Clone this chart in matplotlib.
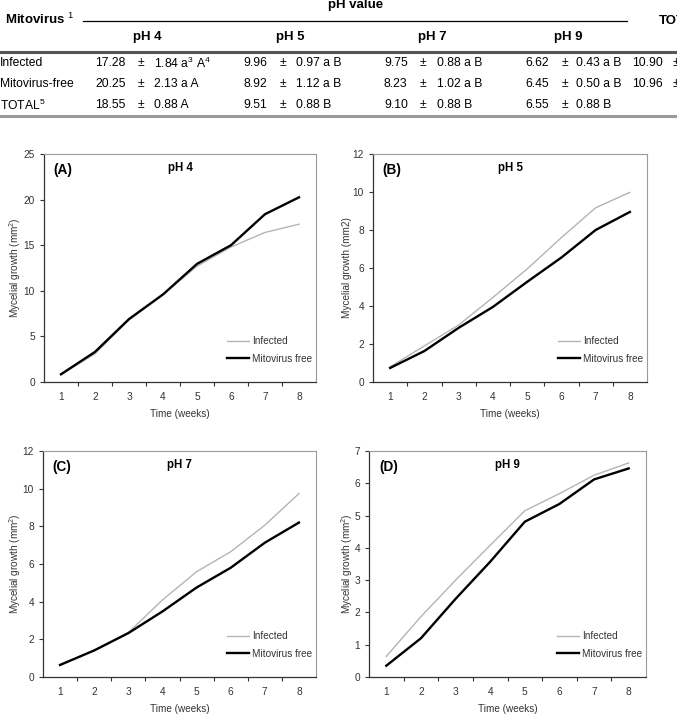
"""
Mycelial growth of infected vs mitovirus-free isolates at four pH values,
with the summary table above the four panels.
"""
import matplotlib
matplotlib.use("Agg")
import matplotlib.pyplot as plt
from matplotlib.lines import Line2D

plt.rcParams["font.family"] = ["Liberation Sans", "DejaVu Sans"]
plt.rcParams["mathtext.fontset"] = "custom"
plt.rcParams["mathtext.rm"] = "Liberation Sans"
plt.rcParams["mathtext.it"] = "Liberation Sans:italic"
plt.rcParams["mathtext.bf"] = "Liberation Sans:bold"

W, H = 677, 725

# ---- table data ----
ph_headers = ["pH 4", "pH 5", "pH 7", "pH 9"]
row_names = ["Infected", "Mitovirus-free", "TOTAL$^{5}$"]
means = [["17.28", "9.96", "9.75", "6.62"],
         ["20.25", "8.92", "8.23", "6.45"],
         ["18.55", "9.51", "9.10", "6.55"]]
errors = [["1.84 a$^{3}$ A$^{4}$", "0.97 a B", "0.88 a B", "0.43 a B"],
          ["2.13 a A", "1.12 a B", "1.02 a B", "0.50 a B"],
          ["0.88 A", "0.88 B", "0.88 B", "0.88 B"]]
row_totals = ["10.90", "10.96", ""]

# ---- growth curves ----
weeks = [1, 2, 3, 4, 5, 6, 7, 8]
ph4_infected = [0.8, 3.1, 6.8, 9.6, 12.7, 14.8, 16.4, 17.3]
ph4_free = [0.85, 3.3, 6.9, 9.6, 12.95, 15.0, 18.4, 20.25]
ph5_infected = [0.8, 1.9, 3.0, 4.45, 5.95, 7.6, 9.17, 9.98]
ph5_free = [0.74, 1.63, 2.85, 3.95, 5.27, 6.55, 8.0, 8.95]
ph7_infected = [0.64, 1.41, 2.36, 4.09, 5.59, 6.65, 8.06, 9.74]
ph7_free = [0.64, 1.41, 2.33, 3.48, 4.75, 5.8, 7.13, 8.2]
ph9_infected = [0.64, 1.87, 3.0, 4.08, 5.15, 5.68, 6.25, 6.63]
ph9_free = [0.35, 1.2, 2.42, 3.57, 4.81, 5.36, 6.12, 6.46]

fig = plt.figure(figsize=(W / 100, H / 100), dpi=100)


def ftext(x, y, s, **kw):
    # place text by pixel position (from top-left)
    kw.setdefault("fontsize", 8.7)
    kw.setdefault("va", "center")
    fig.text(x / W, 1 - y / H, s, **kw)


def fline(x0, x1, y, **kw):
    fig.add_artist(Line2D([x0 / W, x1 / W], [1 - y / H, 1 - y / H],
                          transform=fig.transFigure, **kw))


# table header (the TOTAL column runs off the right edge, as in the source)
ftext(356, 5, "pH value", ha="center", weight="bold", fontsize=9.5)
ftext(5, 19, "Mitovirus $^{1}$", weight="bold", fontsize=9.5)
ftext(659, 21, "TOTAL", weight="bold", fontsize=9.5)
fline(83, 627, 20.5, color="black", lw=0.9)
for x, h in zip([147, 290, 432, 568], ph_headers):
    ftext(x, 37, h, ha="center", weight="bold", fontsize=9.5)
fline(0, W, 52, color="#555555", lw=2.2)
fline(0, W, 115.5, color="#999999", lw=2.2)

mean_x = [95, 243, 384, 525]
pm_x = [138, 280, 420, 562]
err_x = [154, 296, 437, 576]
for r, y in enumerate([63, 84, 105]):
    ftext(0, y, row_names[r])
    for c in range(4):
        ftext(mean_x[c], y, means[r][c])
        ftext(pm_x[c], y, "±")
        ftext(err_x[c], y, errors[r][c])
    if row_totals[r]:
        ftext(632, y, row_totals[r])
        ftext(673, y, "±")

# ---- panels ----
panels = [
    ("(A)", "pH 4", ph4_infected, ph4_free, 25, 5, "Mycelial growth (mm$^{2}$)",
     [44 / W, 1 - 382 / H, 272 / W, 228 / H], -0.105),
    ("(B)", "pH 5", ph5_infected, ph5_free, 12, 2, "Mycelial growth (mm2)",
     [373 / W, 1 - 382 / H, 274 / W, 228 / H], -0.095),
    ("(C)", "pH 7", ph7_infected, ph7_free, 12, 2, "Mycelial growth (mm$^{2}$)",
     [43 / W, 1 - 677 / H, 273 / W, 226 / H], -0.103),
    ("(D)", "pH 9", ph9_infected, ph9_free, 7, 1, "Mycelial growth (mm$^{2}$)",
     [369 / W, 1 - 677 / H, 277 / W, 226 / H], -0.08),
]

for tag, title, infected, free, ymax, ystep, ylabel, rect, ylab_x in panels:
    ax = fig.add_axes(rect)
    ax.plot(weeks, infected, color="#b4b4b4", lw=1.0, label="Infected")
    ax.plot(weeks, free, color="black", lw=1.7, label="Mitovirus free")
    ax.set_xlim(0.5, 8.5)
    ax.set_ylim(0, ymax)
    ax.set_yticks(range(0, ymax + 1, ystep))
    # category-style axis: ticks between weeks, labels centred on weeks
    ax.set_xticks([w + 0.5 for w in weeks[:-1]])
    ax.set_xticklabels([])
    ax.set_xticks(weeks, minor=True)
    ax.set_xticklabels([str(w) for w in weeks], minor=True)
    ax.tick_params(axis="x", which="minor", length=0, pad=7, labelsize=7.3,
                   colors="#333333")
    ax.tick_params(axis="x", which="major", direction="out", length=3,
                   width=0.8, color="#333333")
    ax.tick_params(axis="y", direction="out", length=3, width=0.8,
                   labelsize=7.3, color="#333333", labelcolor="#333333")
    for side in ["left", "bottom"]:
        ax.spines[side].set_color("#333333")
        ax.spines[side].set_linewidth(0.9)
    for side in ["top", "right"]:
        ax.spines[side].set_color("#9a9a9a")
        ax.spines[side].set_linewidth(0.8)
    ax.set_xlabel("Time (weeks)", fontsize=7.2, color="#333333", labelpad=5)
    ax.set_ylabel(ylabel, fontsize=7.2, color="#333333", va="center")
    ax.yaxis.set_label_coords(ylab_x, 0.5)
    ax.text(0.036, 0.93, tag, transform=ax.transAxes, fontsize=9.8,
            weight="bold", va="center")
    ax.text(0.5, 0.94, title, transform=ax.transAxes, fontsize=8.3,
            weight="bold", va="center", ha="center")
    ax.legend(loc="lower right", bbox_to_anchor=(1.02, 0.04), frameon=False,
              fontsize=7.2, handlelength=2.2, handletextpad=0.3,
              labelspacing=0.75, labelcolor="#333333")

fig.savefig("out.png", dpi=100)
